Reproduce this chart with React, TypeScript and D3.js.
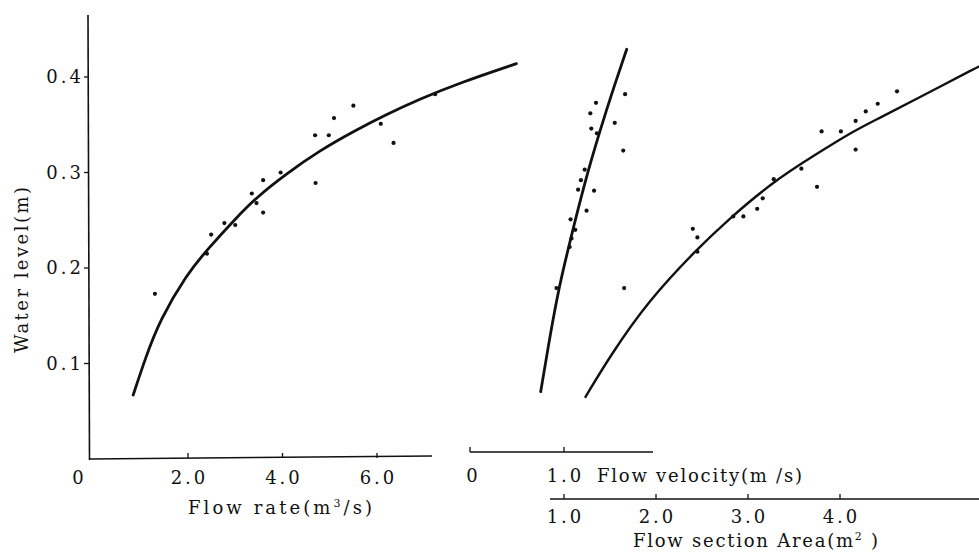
import React from "react";
import * as d3 from "d3";

// ---- data ----
const levelTicks = [0.1, 0.2, 0.3, 0.4];
const flowTicks = [2, 4, 6];
const velTicks = [0, 1];
const areaTicks = [1, 2, 3, 4];

// Flow rate (m3/s) vs water level (m)
const flowPtsQ = [1.30, 2.40, 2.49, 2.77, 3.0, 3.35, 3.45, 3.59, 3.59, 3.96, 4.69, 4.70, 4.98, 5.09, 5.50, 6.08, 6.35, 7.23];
const flowPtsH = [0.173, 0.215, 0.235, 0.247, 0.245, 0.278, 0.268, 0.292, 0.258, 0.300, 0.339, 0.289, 0.339, 0.357, 0.370, 0.351, 0.331, 0.382];
const flowCurveQ = [0.84, 1.1, 1.41, 1.97, 2.40, 3.03, 3.45, 4.09, 4.79, 5.50, 6.21, 6.91, 7.76, 8.95];
const flowCurveH = [0.067, 0.106, 0.146, 0.193, 0.219, 0.253, 0.274, 0.299, 0.323, 0.343, 0.361, 0.377, 0.394, 0.414];

// Flow velocity (m/s) vs water level
const velPtsV = [0.92, 1.64, 1.06, 1.08, 1.12, 1.07, 1.24, 1.15, 1.32, 1.18, 1.22, 1.63, 1.35, 1.29, 1.54, 1.28, 1.34, 1.65];
const velPtsH = [0.179, 0.179, 0.222, 0.231, 0.240, 0.251, 0.260, 0.282, 0.281, 0.292, 0.303, 0.323, 0.341, 0.346, 0.352, 0.362, 0.373, 0.382];
const velCurveV = [0.752, 0.856, 0.947, 1.059, 1.218, 1.383, 1.532, 1.667];
const velCurveH = [0.0705, 0.1316, 0.180, 0.226, 0.289, 0.344, 0.390, 0.429];

// Flow section area (m2) vs water level
const areaPtsA = [2.40, 2.45, 2.45, 2.84, 2.95, 3.10, 3.16, 3.28, 3.58, 3.75, 3.80, 4.01, 4.17, 4.17, 4.28, 4.41, 4.62];
const areaPtsH = [0.241, 0.232, 0.217, 0.254, 0.254, 0.262, 0.273, 0.293, 0.304, 0.285, 0.343, 0.343, 0.354, 0.324, 0.364, 0.372, 0.385];
const areaCurveA = [1.234, 1.495, 1.911, 2.437, 2.799, 3.270, 3.704, 4.176, 4.429, 4.791, 5.505, 5.62];
const areaCurveH = [0.065, 0.107, 0.165, 0.219, 0.252, 0.290, 0.317, 0.345, 0.357, 0.375, 0.411, 0.416];

const W = 979;
const H = 556;
const FONT = "'DejaVu Serif', 'Liberation Serif', serif";
const INK = "#111";

export default function App() {
  const y = d3.scaleLinear().domain([0, 0.4]).range([459, 77]);
  const xq = d3.scaleLinear().domain([0, 6]).range([93.5, 377]);
  const xv = d3.scaleLinear().domain([0, 1]).range([470, 564]);
  const xa = d3.scaleLinear().domain([1, 4]).range([564, 840]);

  const line = d3.line<[number, number]>().x((d) => d[0]).y((d) => d[1]).curve(d3.curveBasis);

  const flowPath = line(flowCurveQ.map((q, i) => [xq(q), y(flowCurveH[i])] as [number, number])) || "";
  const velPath = line(velCurveV.map((v, i) => [xv(v), y(velCurveH[i])] as [number, number])) || "";
  const areaPath = line(areaCurveA.map((a, i) => [xa(a), y(areaCurveH[i])] as [number, number])) || "";

  const leftAxisY = 458;
  const velAxisY = 452;
  const areaAxisY = 499;

  const tickFont = { fontFamily: FONT, fontSize: 18, letterSpacing: 3, fill: INK } as const;

  return (
    <svg width={W} height={H} style={{ position: "absolute", left: 0, top: 0, background: "#fff" }}>
      <rect x={0} y={0} width={W} height={H} fill="#fff" />
      {/* y axis */}
      <line x1={88} y1={15} x2={89.5} y2={460} stroke={INK} strokeWidth={1.6} />
      {levelTicks.map((t) => (
        <g key={"yt" + t}>
          <line x1={84} x2={89} y1={y(t)} y2={y(t)} stroke={INK} strokeWidth={1.3} />
          <text x={84} y={y(t)} dy="0.36em" textAnchor="end" {...tickFont}>
            {t.toFixed(1)}
          </text>
        </g>
      ))}
      <text
        transform="translate(28,270) rotate(-90)"
        textAnchor="middle"
        fontFamily={FONT}
        fontSize={18}
        fill={INK}
        textLength={166}
        lengthAdjust="spacing"
      >
        Water level(m)
      </text>

      {/* flow rate axis */}
      <line x1={89.5} x2={432} y1={leftAxisY + 1} y2={leftAxisY - 2} stroke={INK} strokeWidth={1.6} />
      {flowTicks.map((t) => (
        <g key={"qt" + t}>
          <line x1={xq(t)} x2={xq(t)} y1={leftAxisY} y2={leftAxisY - 5} stroke={INK} strokeWidth={1.3} />
          <text x={xq(t) + 1.5} y={484} textAnchor="middle" {...tickFont}>
            {t.toFixed(1)}
          </text>
        </g>
      ))}
      <text x={78} y={484} textAnchor="middle" fontFamily={FONT} fontSize={18} fill={INK}>0</text>
      <text x={188} y={514} fontFamily={FONT} fontSize={18} fill={INK} textLength={184} lengthAdjust="spacing">
        Flow  rate(m<tspan fontSize={11} dy={-7}>3</tspan><tspan dy={7}>/s)</tspan>
      </text>

      {/* velocity axis */}
      <line x1={xv(0)} x2={653} y1={velAxisY} y2={velAxisY} stroke={INK} strokeWidth={1.6} />
      {velTicks.map((t) => (
        <line key={"vt" + t} x1={xv(t)} x2={xv(t)} y1={velAxisY} y2={velAxisY - 5} stroke={INK} strokeWidth={1.3} />
      ))}
      <text x={xv(0) + 2} y={482} textAnchor="middle" fontFamily={FONT} fontSize={18} fill={INK}>0</text>
      <text x={xv(1) + 1.5} y={482} textAnchor="middle" {...tickFont}>1.0</text>
      <text x={597} y={482} fontFamily={FONT} fontSize={18} fill={INK} textLength={205} lengthAdjust="spacing">
        Flow velocity(m /s)
      </text>

      {/* area axis */}
      <line x1={550} x2={979} y1={areaAxisY} y2={areaAxisY} stroke={INK} strokeWidth={1.6} />
      {areaTicks.map((t) => (
        <g key={"at" + t}>
          <line x1={xa(t)} x2={xa(t)} y1={areaAxisY} y2={areaAxisY - 5} stroke={INK} strokeWidth={1.3} />
          <text x={xa(t) + 1.5} y={523} textAnchor="middle" {...tickFont}>
            {t.toFixed(1)}
          </text>
        </g>
      ))}
      <text x={633} y={547} fontFamily={FONT} fontSize={18} fill={INK} textLength={245} lengthAdjust="spacing">
        Flow  section  Area(m<tspan fontSize={11} dy={-7}>2</tspan><tspan dy={7}> )</tspan>
      </text>

      {/* curves */}
      <path d={flowPath} fill="none" stroke={INK} strokeWidth={2.8} strokeLinecap="round" />
      <path d={velPath} fill="none" stroke={INK} strokeWidth={2.8} strokeLinecap="round" />
      <path d={areaPath} fill="none" stroke={INK} strokeWidth={2.4} strokeLinecap="round" />

      {/* points */}
      {flowPtsQ.map((q, i) => (
        <circle key={"fp" + i} cx={xq(q)} cy={y(flowPtsH[i])} r={2.1} fill={INK} />
      ))}
      {velPtsV.map((v, i) => (
        <circle key={"vp" + i} cx={xv(v)} cy={y(velPtsH[i])} r={2.1} fill={INK} />
      ))}
      {areaPtsA.map((a, i) => (
        <circle key={"ap" + i} cx={xa(a)} cy={y(areaPtsH[i])} r={2.1} fill={INK} />
      ))}
    </svg>
  );
}
